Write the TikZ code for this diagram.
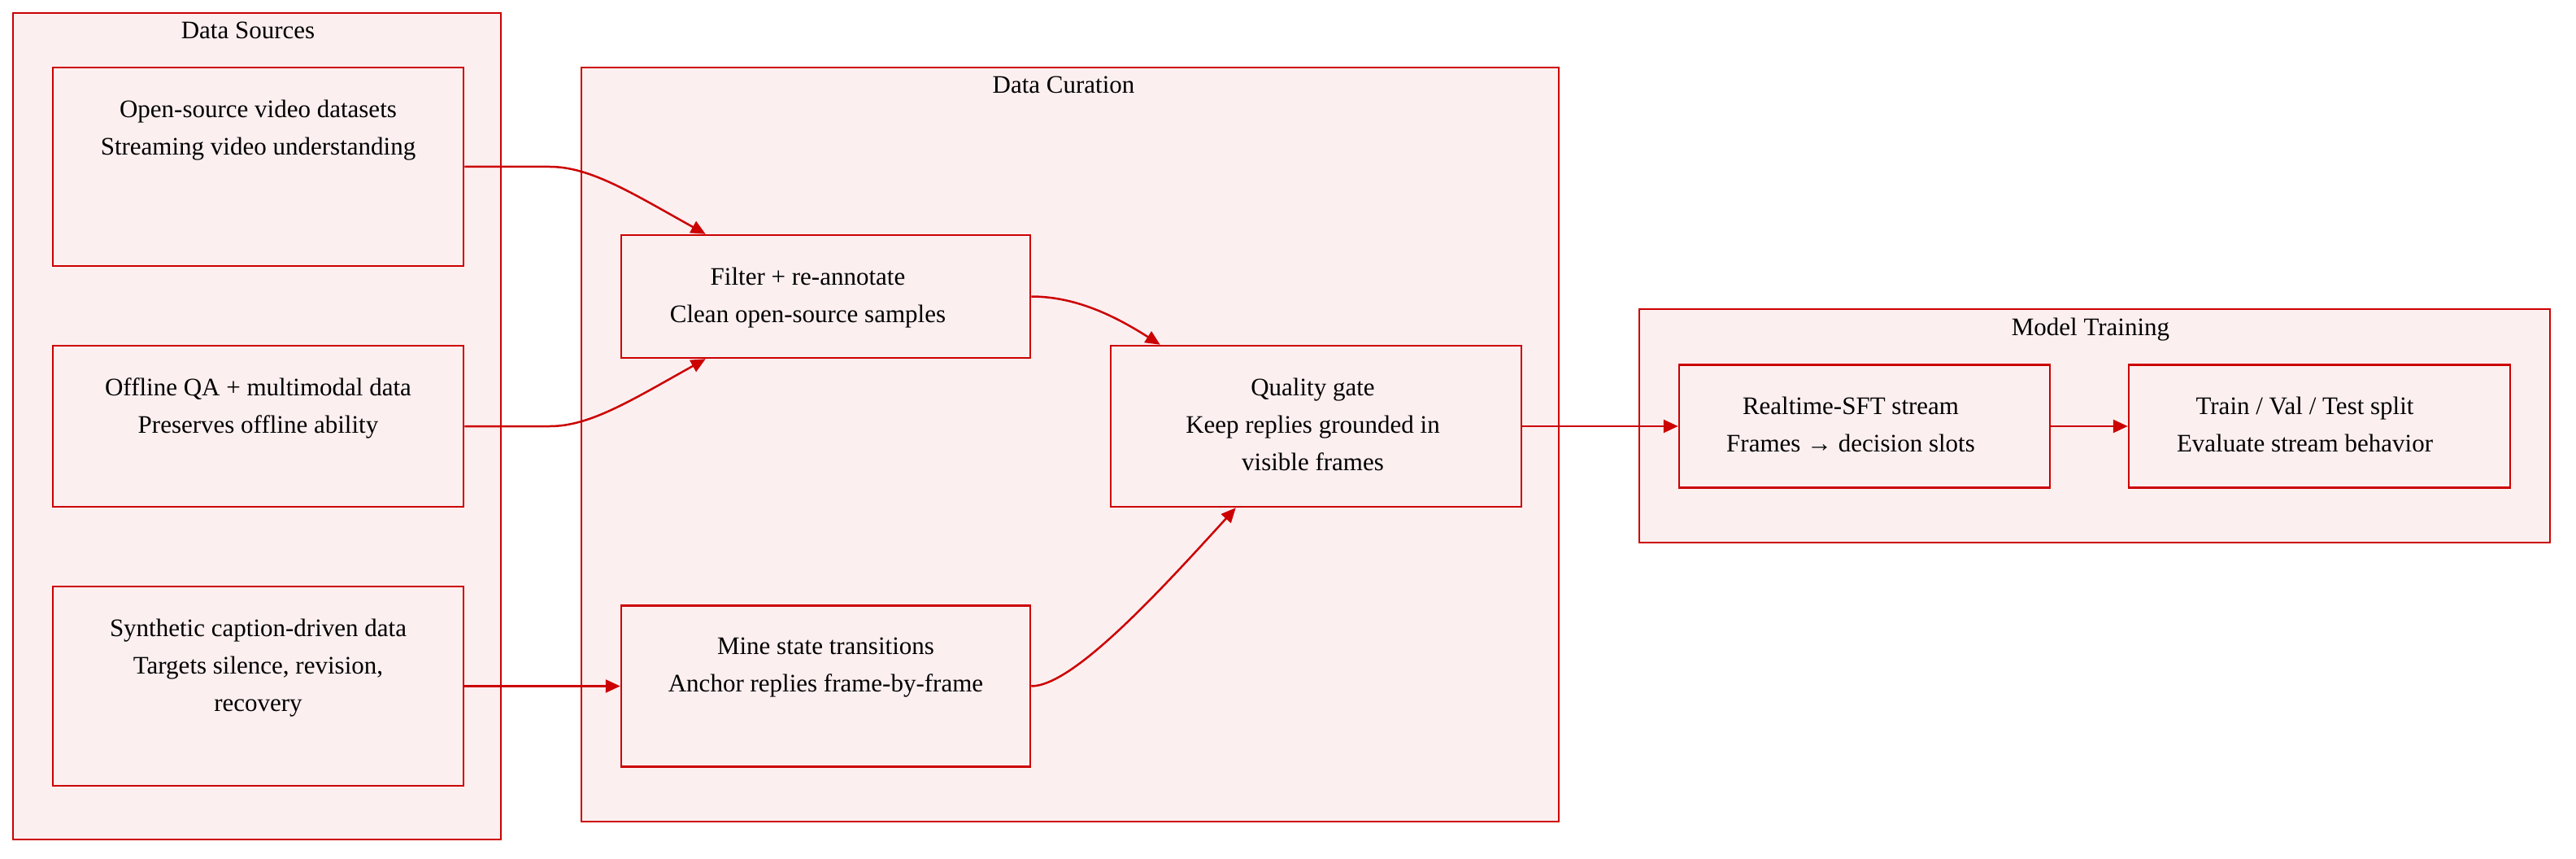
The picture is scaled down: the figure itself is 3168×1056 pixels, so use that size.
\documentclass[tikz,border=0pt]{standalone}
\usepackage{fontspec}
\setmainfont{Liberation Serif}
\usetikzlibrary{arrows.meta, positioning, calc}
\definecolor{boxred}{RGB}{204,0,0}
\definecolor{boxfill}{RGB}{252,239,240}
\tikzset{
	grp/.style = {draw=boxred, fill=boxfill, line width=2pt, inner sep=0pt},
	stepbox/.style = {draw=boxred, fill=boxfill, line width=2.5pt, inner sep=0pt},
	boxtxt/.style = {anchor=north, yshift=-41pt, inner sep=0pt, align=center},
	grptitle/.style = {anchor=north, yshift=-12pt, inner sep=0pt},
	flow/.style = {draw=boxred, line width=2.5pt, -{Triangle[length=18pt, width=16pt]}}
}

\begin{document}
\begin{tikzpicture}[x=1pt, y=-1pt]
	\useasboundingbox (0,0) rectangle (3168,1056);
	\tikzstyle{every node}=[font=\fontsize{31}{46}\selectfont]
	
	% clusters
	\node [grp, minimum width=600pt, minimum height=1016pt, label={[grptitle, xshift=-11pt]north:Data Sources}] (srcs) at (316,524) {};
	\node [grp, minimum width=1202pt, minimum height=927pt, label={[grptitle, xshift=-8pt]north:Data Curation}] (cur) at (1316,546.5) {};
	\node [grp, minimum width=1120pt, minimum height=287pt, label={[grptitle, xshift=-5pt]north:Model Training}] (train) at (2576,523.5) {};
	
	% data sources
	\node [stepbox, minimum width=505pt, minimum height=244pt, label={[boxtxt]north:Open-source video datasets\\Streaming video understanding}] (src1) at (317.5,205) {};
	\node [stepbox, minimum width=505pt, minimum height=198pt, label={[boxtxt]north:Offline QA + multimodal data\\Preserves offline ability}] (src2) at (317.5,524) {};
	\node [stepbox, minimum width=505pt, minimum height=245pt, label={[boxtxt]north:Synthetic caption-driven data\\Targets silence, revision,\\recovery}] (src3) at (317.5,843.5) {};
	
	% curation
	\node [stepbox, minimum width=503pt, minimum height=151pt, label={[boxtxt, xshift=-22pt]north:Filter + re-annotate\\Clean open-source samples}] (filt) at (1015.5,364.5) {};
	\node [stepbox, minimum width=505pt, minimum height=198pt, label={[boxtxt, xshift=-4pt]north:Quality gate\\Keep replies grounded in\\visible frames}] (gate) at (1618.5,524) {};
	\node [stepbox, minimum width=503pt, minimum height=198pt, label={[boxtxt]north:Mine state transitions\\Anchor replies frame-by-frame}] (mine) at (1015.5,843.5) {};
	
	% training
	\node [stepbox, minimum width=456pt, minimum height=151pt, label={[boxtxt, xshift=-17pt]north:Realtime-SFT stream\\Frames → decision slots}] (rt) at (2293,524) {};
	\node [stepbox, minimum width=469pt, minimum height=151pt, label={[boxtxt, xshift=-18pt]north:Train / Val / Test split\\Evaluate stream behavior}] (split) at (2852.5,524) {};
	
	% flows
	\draw [flow] (src1.east) -- ++(105,0) .. controls +(50,0) and +(-90,-50) .. ($(filt.north west)+(105,0)$);
	\draw [flow] (src2.east) -- ++(105,0) .. controls +(50,0) and +(-90,50) .. ($(filt.south west)+(105,0)$);
	\draw [flow] (src3.east) -- (mine.west);
	\draw [flow] (filt.east) .. controls +(55,0) and +(-55,-35) .. ($(gate.north west)+(62,0)$);
	\draw [flow] (mine.east) .. controls +(50,0) and +(-100,110) .. ($(gate.south west)+(155,0)$);
	\draw [flow] (gate.east) -- (rt.west);
	\draw [flow] (rt.east) -- (split.west);
\end{tikzpicture}
\end{document}
